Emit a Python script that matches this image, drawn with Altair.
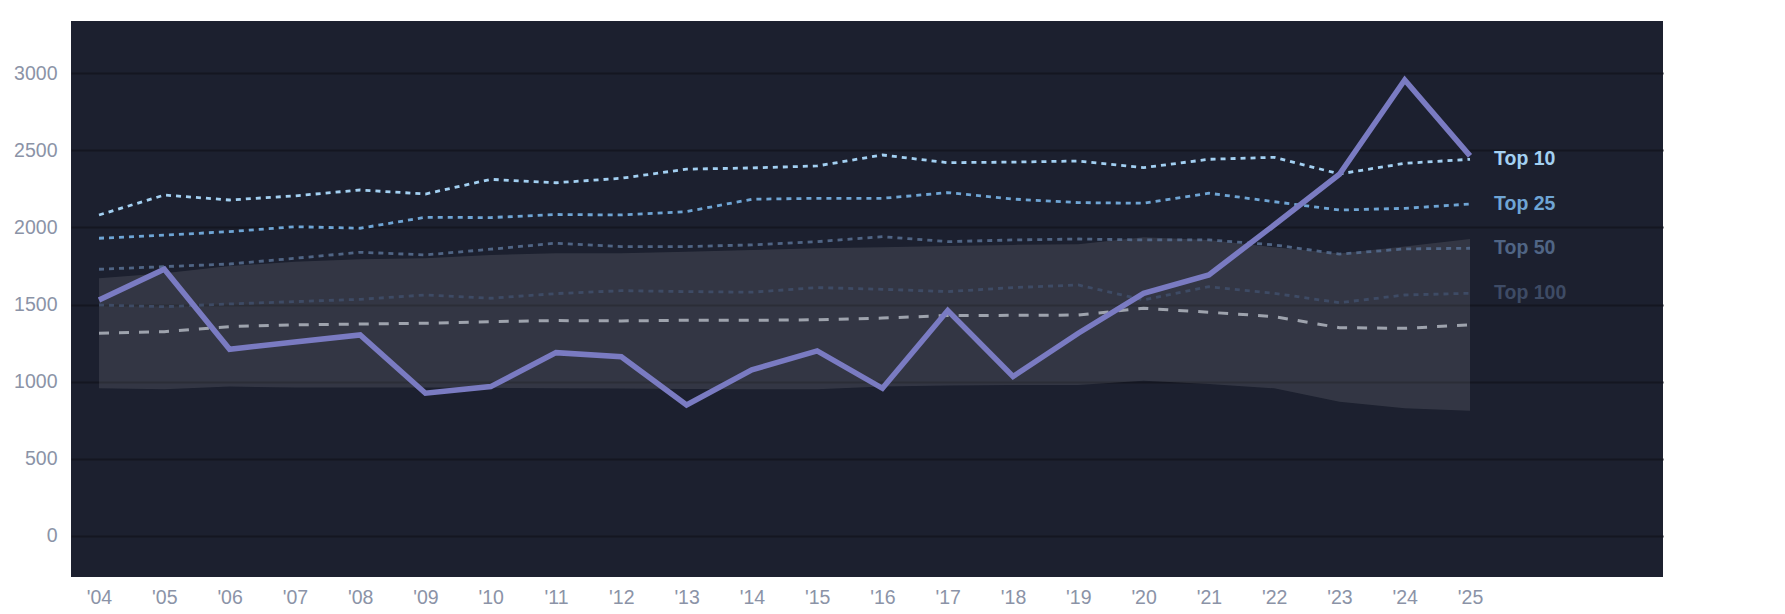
import altair as alt
import pandas as pd

years = list(range(2004, 2026))
main = [1530, 1729, 1210, 1257, 1303, 925, 968, 1188, 1162, 849, 1076, 1199, 957, 1461, 1033, 1314, 1573, 1692, 2016, 2345, 2957, 2464]
top10 = [2081, 2210, 2178, 2205, 2243, 2217, 2312, 2290, 2319, 2378, 2386, 2399, 2470, 2420, 2424, 2431, 2388, 2442, 2455, 2347, 2416, 2442]
top25 = [1930, 1950, 1973, 2005, 1995, 2066, 2064, 2084, 2081, 2103, 2183, 2189, 2189, 2226, 2184, 2161, 2157, 2222, 2167, 2113, 2124, 2152]
top50 = [1729, 1746, 1763, 1800, 1839, 1822, 1859, 1898, 1876, 1876, 1887, 1908, 1940, 1908, 1919, 1925, 1919, 1919, 1887, 1827, 1861, 1865]
top100 = [1497, 1486, 1504, 1519, 1534, 1562, 1541, 1571, 1590, 1584, 1580, 1610, 1599, 1584, 1610, 1627, 1530, 1616, 1573, 1512, 1562, 1573]
median = [1314, 1324, 1357, 1368, 1374, 1379, 1389, 1396, 1394, 1398, 1398, 1401, 1412, 1429, 1430, 1432, 1476, 1450, 1422, 1350, 1346, 1368]
band_hi = [1671, 1703, 1750, 1778, 1794, 1800, 1822, 1833, 1833, 1843, 1854, 1865, 1871, 1880, 1887, 1891, 1936, 1919, 1871, 1831, 1876, 1925]
band_lo = [957, 951, 968, 962, 962, 962, 960, 957, 955, 953, 951, 951, 968, 975, 979, 979, 1006, 985, 957, 870, 827, 812]

tier_names = ["Top 10", "Top 25", "Top 50", "Top 100"]
tier_values = [top10, top25, top50, top100]
tier_colors = ["#a3d0f2", "#6fa5d5", "#506585", "#3e4b65"]

FONT = "Liberation Sans"
XDOM = [2003.571, 2027.956]
YDOM = [-267, 3339]

x_enc = alt.X(
    "year:Q",
    scale=alt.Scale(domain=XDOM, nice=False, zero=False),
    axis=alt.Axis(
        values=years,
        labelExpr="\"'\" + format(datum.value % 100, '02d')",
        grid=False, domain=False, ticks=False,
        labelColor="#8b93a7", labelFontSize=19.5, labelFont=FONT,
        labelPadding=11, title=None, labelFlush=False,
    ),
)
y_scale = alt.Scale(domain=YDOM, nice=False, zero=False)

band_df = pd.DataFrame({"year": years, "lo": band_lo, "hi": band_hi})
band = alt.Chart(band_df).mark_area(color="#ffffff", opacity=0.1).encode(
    x=x_enc,
    y=alt.Y(
        "lo:Q", scale=y_scale,
        axis=alt.Axis(
            values=[0, 500, 1000, 1500, 2000, 2500, 3000],
            format="d",
            grid=True, gridColor="#141621", gridWidth=2,
            domain=False, ticks=False,
            labelColor="#8b93a7", labelFontSize=19.5, labelFont=FONT,
            labelPadding=14, title=None,
        ),
    ),
    y2="hi:Q",
)

layers = [band]

median_df = pd.DataFrame({"year": years, "v": median})
layers.append(
    alt.Chart(median_df).mark_line(color="#9ea3ad", strokeWidth=3, strokeDash=[10, 10]).encode(
        x="year:Q", y=alt.Y("v:Q", scale=y_scale)
    )
)

for name, vals, col in zip(tier_names[::-1], tier_values[::-1], tier_colors[::-1]):
    df = pd.DataFrame({"year": years, "v": vals})
    layers.append(
        alt.Chart(df).mark_line(color=col, strokeWidth=2.8, strokeDash=[5, 5]).encode(
            x="year:Q", y=alt.Y("v:Q", scale=y_scale)
        )
    )

main_df = pd.DataFrame({"year": years, "v": main})
layers.append(
    alt.Chart(main_df).mark_line(color="#7a7bc2", strokeWidth=5.5, strokeJoin="miter").encode(
        x="year:Q", y=alt.Y("v:Q", scale=y_scale)
    )
)

label_df = pd.DataFrame({
    "year": [years[-1]] * 4,
    "v": [v[-1] for v in tier_values],
    "name": tier_names,
    "col": tier_colors,
})
layers.append(
    alt.Chart(label_df).mark_text(
        align="left", baseline="middle", dx=24, font=FONT, fontSize=19.5, fontWeight="bold"
    ).encode(
        x="year:Q", y=alt.Y("v:Q", scale=y_scale), text="name:N",
        color=alt.Color("col:N", scale=None),
    )
)

chart = alt.layer(*layers).properties(
    width=1592, height=556,
    autosize=alt.AutoSizeParams(type="none"),
    padding={"left": 63, "top": 13, "right": 100, "bottom": 37},
    background="#ffffff",
).configure_view(fill="#1c202f", stroke=None)

chart.save("out.html", embed_options={"renderer": "svg", "actions": False})
